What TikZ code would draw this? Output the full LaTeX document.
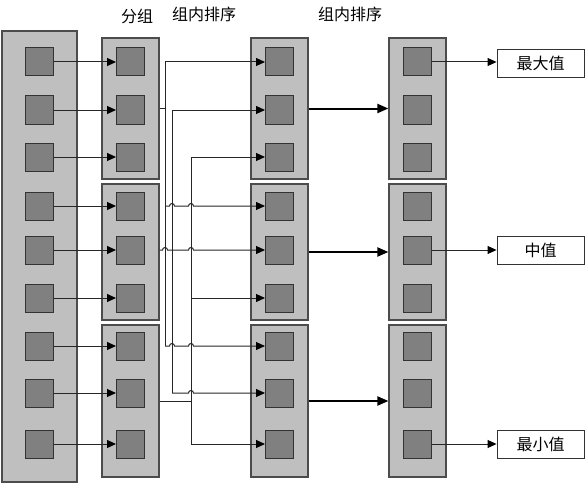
\documentclass[tikz,border=0pt]{standalone}
\usepackage{fontspec}
\setmainfont{Noto Sans CJK SC}
\usetikzlibrary{arrows.meta,calc}

\begin{document}
\begin{tikzpicture}[x=1pt,y=-1pt,
		col/.style={draw=black!70,line width=1.2pt,fill=black!25,inner sep=0pt},
		sq/.style={draw=black!80,line width=1pt,fill=black!50,minimum size=28pt,inner sep=0pt},
		ln/.style={draw=black!85,line width=1pt},
		arr/.style={ln,-{Triangle[length=9pt,width=8pt,color=black]}},
		thk/.style={draw=black,line width=2pt,-{Triangle[length=11pt,width=9pt]}},
		lbl/.style={font=\fontsize{16}{19}\selectfont},
		hop/.style={insert path={arc[start angle=180,end angle=0,radius=2.5pt]}}]
	\useasboundingbox (0,0) rectangle (585,484);

	\node[col,minimum width=75pt,minimum height=451pt] (A) at (39.5,256.5) {};
	\begin{scope}[every node/.style={col,minimum width=57pt}]
		\node[minimum height=141pt] (G1) at (130.5,108.5) {};
		\node[minimum height=136pt] (G2) at (130.5,252) {};
		\node[minimum height=152pt] (G3) at (130.5,401) {};
		\node[minimum height=141pt] (H1) at (279.5,108.5) {};
		\node[minimum height=136pt] (H2) at (279.5,252) {};
		\node[minimum height=152pt] (H3) at (279.5,401) {};
		\node[minimum height=141pt] (K1) at (417.5,108.5) {};
		\node[minimum height=136pt] (K2) at (417.5,252) {};
		\node[minimum height=152pt] (K3) at (417.5,401) {};
	\end{scope}

	\node[lbl] (t1) at (137,16) {分组};
	\node[lbl] (t2) at (204,14) {组内排序};
	\node[lbl] (t3) at (350,14) {组内排序};

	\begin{scope}[every node/.style={sq}]
		\foreach \r/\y in {1/62,2/110,3/157,4/206,5/250,6/298,7/346,8/393,9/444} {
			\node (a\r) at (39.5,\y) {};
			\node (b\r) at (130.5,\y) {};
			\node (c\r) at (279.5,\y) {};
			\node (d\r) at (417.5,\y) {};
			\draw[arr] (a\r) -- (b\r);
		}
	\end{scope}

	\begin{scope}[every node/.style={draw=black!80,line width=0.9pt,fill=white,lbl,minimum width=87pt,minimum height=28pt}]
		\node (max) at (540.5,63) {最大值};
		\node (mid) at (540.5,250) {中值};
		\node (min) at (540.5,444) {最小值};
	\end{scope}

	\coordinate (p1) at (165,0);
	\coordinate (p2) at (172,0);
	\coordinate (p3) at (191,0);

	\draw[ln] (G1.east) -- (p1 |- G1.east);
	\draw[ln] (G3.east) -- (p3 |- G3.east);
	\draw[ln] (p1 |- c1) -- (p1 |- c7);
	\draw[ln] (p2 |- c2) -- (p2 |- c8);
	\draw[ln] (p3 |- c3) -- (p3 |- c9);

	\draw[arr] (p1 |- c1) -- (c1);
	\draw[arr] (p2 |- c2) -- (c2);
	\draw[arr] (p3 |- c3) -- (c3);
	\draw[arr] (p1 |- c4) -- ($(p2 |- c4)+(-2.5,0)$) [hop] -- ($(p3 |- c4)+(-2.5,0)$) [hop] -- (c4);
	\draw[arr] (G2.east |- c5) -- ($(p1 |- c5)+(-2.5,0)$) [hop] -- ($(p3 |- c5)+(-2.5,0)$) [hop] -- (c5);
	\draw[arr] (p3 |- c6) -- (c6);
	\draw[arr] (p1 |- c7) -- ($(p2 |- c7)+(-2.5,0)$) [hop] -- ($(p3 |- c7)+(-2.5,0)$) [hop] -- (c7);
	\draw[arr] (p2 |- c8) -- ($(p3 |- c8)+(-2.5,0)$) [hop] -- (c8);
	\draw[arr] (p3 |- c9) -- (c9);

	\draw[thk] (H1) -- (K1);
	\draw[thk] (H2) -- (K2);
	\draw[thk] (H3) -- (K3);

	\draw[arr] (d1) -- (d1 -| max.west);
	\draw[arr] (d5) -- (d5 -| mid.west);
	\draw[arr] (d9) -- (d9 -| min.west);
\end{tikzpicture}
\end{document}
